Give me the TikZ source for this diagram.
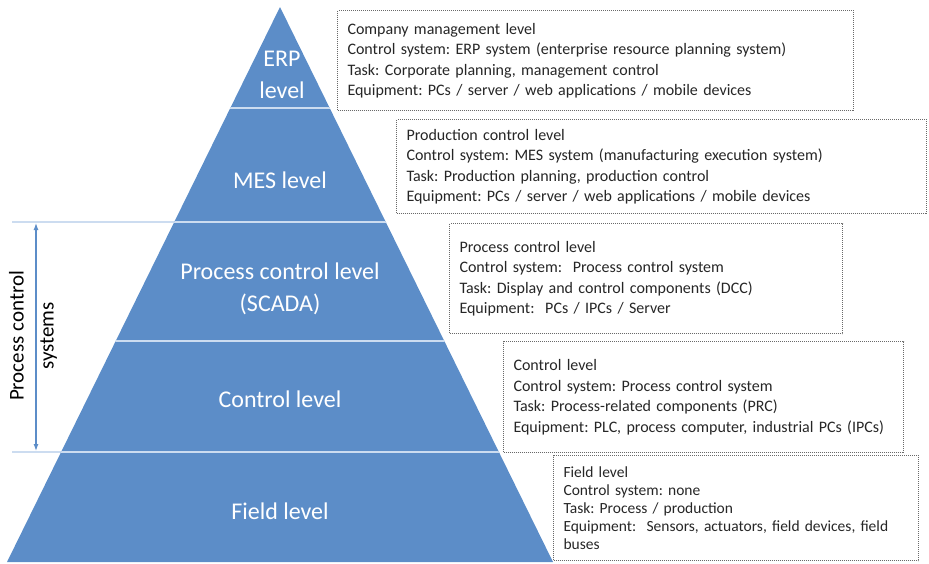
\documentclass[tikz,border=0pt]{standalone}
\usepackage{fontspec}
\setmainfont{Carlito}
\frenchspacing
\usepackage{tikz}
\usetikzlibrary{
  arrows.meta,
  calc,
  positioning,
}
\definecolor{pyramidblue}{RGB}{92, 141, 200}
\definecolor{seplight}{RGB}{204, 220, 240}
\definecolor{boxgray}{RGB}{105, 105, 105}
\tikzstyle{levelbox} = [
  draw=boxgray,
  line width=1pt,
  dash pattern=on 1pt off 1pt,
  anchor=north west,
  inner xsep=10pt,
  inner ysep=0pt,
  align=left,
  font=\fontsize{16}{20.5}\selectfont,
  text=black!85,
]
\tikzstyle{levellabel} = [
  text=white,
  align=center,
  font=\fontsize{24}{32}\selectfont,
]
\tikzstyle{separator} = [seplight, line width=2.2pt]

\begin{document}
\begin{tikzpicture}[x=1pt, y=-1pt]
  \useasboundingbox (0,0) rectangle (929,563);
  \coordinate (apex) at (280,7);
  \coordinate (baseL) at (7,562);
  \coordinate (baseR) at (553,562);
  \coordinate (pcsTop) at (12,222);
  \coordinate (pcsBot) at (12,452);
  \draw[seplight, line width=1.6pt] (pcsTop) -- ++(270,0);
  \draw[seplight, line width=1.6pt] (pcsBot) -- ++(270,0);
  \fill[pyramidblue] (apex) -- (baseL) -- (baseR) -- cycle;
  \begin{scope}
    \clip (apex) -- (baseL) -- (baseR) -- cycle;
    \foreach \y in {108,222,341,452}
      \draw[separator] (0,\y) -- (929,\y);
  \end{scope}
  \coordinate (arrTop) at (36,223);
  \coordinate (arrBot) at (36,451);
  \draw[pyramidblue, line width=1.2pt, {Latex[length=7pt,width=5pt]}-{Latex[length=7pt,width=5pt]}] (arrTop) -- (arrBot);
  \node[rotate=90, align=center, font=\fontsize{21}{30}\selectfont] (pcs) at (33,336) {Process control\\systems};

  \node[levellabel] (erp) at (282,75) {ERP\\level};
  \node[levellabel] (mes) at (280,180) {MES level};
  \node[levellabel] (pcl) at (280,289) {Process control level\\(SCADA)};
  \node[levellabel] (ctl) at (280,399) {Control level};
  \node[levellabel] (fld) at (280,511) {Field level};

  \node[levelbox, text width=496pt, minimum height=100pt] (erpinfo) at (337,10) {Company management level\\
    Control system: ERP system (enterprise resource planning system)\\
    Task: Corporate planning, management control\\
    Equipment: PCs / server / web applications / mobile devices};
  \node[levelbox, text width=510pt, minimum height=94pt] (mesinfo) at (396,119) {Production control level\\
    Control system: MES system (manufacturing execution system)\\
    Task: Production planning, production control\\
    Equipment: PCs / server / web applications / mobile devices};
  \node[levelbox, text width=373pt, minimum height=110pt] (pclinfo) at (449,223) {Process control level\\
    Control system:~ Process control system\\
    Task: Display and control components (DCC)\\
    Equipment:~ PCs / IPCs / Server};
  \node[levelbox, text width=380pt, minimum height=111pt] (ctlinfo) at (503,341) {Control level\\
    Control system: Process control system\\
    Task: Process-related components (PRC)\\
    Equipment: PLC, process computer, industrial PCs (IPCs)};
  \node[levelbox, text width=345pt, minimum height=105pt, font=\fontsize{15.5}{18}\selectfont] (fldinfo) at (553,455) {Field level\\
    Control system: none\\
    Task: Process / production\\
    Equipment:~ Sensors, actuators, field devices, field\\
    buses};
\end{tikzpicture}
\end{document}
